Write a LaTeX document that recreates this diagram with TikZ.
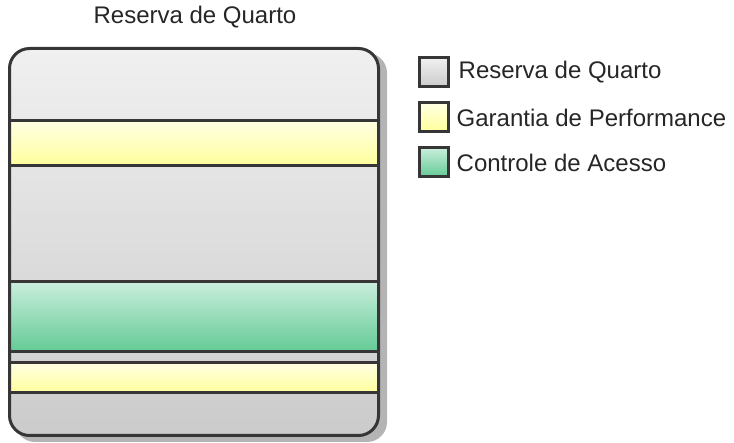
\documentclass[tikz,border=0pt]{standalone}
\usepackage{fontspec}
\setmainfont{Liberation Sans}
\usetikzlibrary{positioning}
\tikzset{>=latex}
\definecolor{edge}{HTML}{363636}
\definecolor{shadowgray}{HTML}{B4B4B4}
\definecolor{greytop}{HTML}{F0F0F0}
\definecolor{greybot}{HTML}{CBCBCB}
\definecolor{yellowtop}{HTML}{FFFFE2}
\definecolor{yellowbot}{HTML}{FFFF9C}
\definecolor{greentop}{HTML}{C9EEDC}
\definecolor{greenbot}{HTML}{63CA95}
\tikzset{
    legbox/.style={draw=edge,line width=3pt,minimum size=29pt,inner sep=0pt},
    legtext/.style={inner sep=0pt,font=\fontsize{24}{28}\selectfont,text=black!85}
}
\newcommand\band[4]{
    \shade[top color=#3,bottom color=#4] (9.5,#1) rectangle (378.5,#2);
    \draw[edge,line width=3pt] (9.5,#1) -- (378.5,#1);
    \draw[edge,line width=3pt] (9.5,#2) -- (378.5,#2);
}

\begin{document}
\begin{tikzpicture}[x=1pt,y=-1pt]
        \useasboundingbox (0,0) rectangle (734,443);

        \node[legtext] (title) at (195,17) {Reserva de Quarto};

        \fill[shadowgray,rounded corners=20pt] (15,53) rectangle (387,442);
        \shade[top color=greytop,bottom color=greybot,rounded corners=20pt]
            (9.5,48.5) rectangle (378.5,435.5);

        \band{121}{166}{yellowtop}{yellowbot}
        \band{282}{352}{greentop}{greenbot}
        \band{363}{393}{yellowtop}{yellowbot}

        \draw[edge,line width=3pt,rounded corners=20pt]
            (9.5,48.5) rectangle (378.5,435.5);

        \node[legbox,top color=greytop,bottom color=greybot] (keyroom) at (433.5,72.5) {};
        \node[legbox,top color=yellowtop,bottom color=yellowbot] (keyperf) at (433.5,117.5) {};
        \node[legbox,top color=greentop,bottom color=greenbot] (keyaccess) at (433.5,162.5) {};

        \node[legtext,right=9pt of keyroom] (txtroom) {Reserva de Quarto};
        \node[legtext,right=7pt of keyperf] (txtperf) {Garantia de Performance};
        \node[legtext,right=7pt of keyaccess] (txtaccess) {Controle de Acesso};
    \end{tikzpicture}
\end{document}
